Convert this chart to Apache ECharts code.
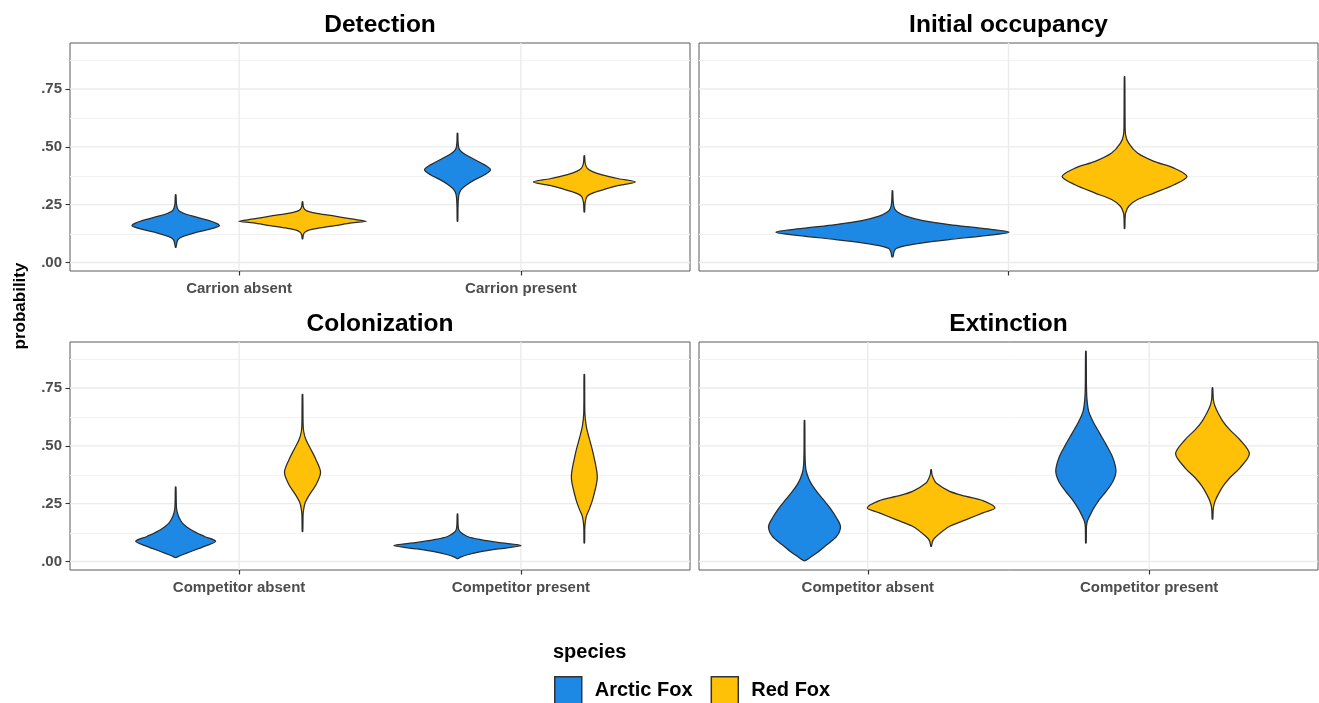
<!DOCTYPE html>
<html>
<head>
<meta charset="utf-8">
<title>Arctic and red fox occupancy dynamics</title>
<script src="https://cdn.jsdelivr.net/npm/echarts@6/dist/echarts.min.js"></script>
<style>
  html, body { margin: 0; padding: 0; background: #ffffff; }
  #chart { width: 1319px; height: 703px; }
</style>
</head>
<body>
<div id="chart"></div>
<script>
// ---- data -------------------------------------------------------------
const speciesNames = ['Arctic Fox', 'Red Fox'];
const speciesColors = ['#1E88E5', '#FFC107'];

const panelTitles = ['Detection', 'Initial occupancy', 'Colonization', 'Extinction'];
const detectionCategories = ['Carrion absent', 'Carrion present'];
const occupancyCategories = [''];
const colonizationCategories = ['Competitor absent', 'Competitor present'];
const extinctionCategories = ['Competitor absent', 'Competitor present'];

const yTickValues = [0, 0.25, 0.5, 0.75];
const yTickLabels = ['.00', '.25', '.50', '.75'];
const yMinorValues = [0.125, 0.375, 0.625, 0.875];

// Violin outlines: [probability, half width in category units]
const detectionArcticAbsent = [
  [0.066, 0.001], [0.099, 0.008], [0.113, 0.026], [0.128, 0.067], [0.142, 0.114],
  [0.159, 0.155], [0.178, 0.126], [0.200, 0.061], [0.214, 0.026], [0.225, 0.010],
  [0.250, 0.003], [0.293, 0.001]
];
const detectionArcticPresent = [
  [0.178, 0.001], [0.250, 0.002], [0.293, 0.005], [0.315, 0.013], [0.336, 0.033],
  [0.358, 0.062], [0.379, 0.096], [0.401, 0.117], [0.422, 0.096], [0.444, 0.062],
  [0.466, 0.029], [0.480, 0.013], [0.494, 0.005], [0.520, 0.002], [0.559, 0.001]
];
const detectionRedAbsent = [
  [0.102, 0.001], [0.120, 0.003], [0.131, 0.009], [0.139, 0.020], [0.148, 0.056],
  [0.159, 0.115], [0.171, 0.174], [0.178, 0.226], [0.188, 0.174], [0.200, 0.115],
  [0.211, 0.056], [0.221, 0.020], [0.228, 0.009], [0.240, 0.003], [0.262, 0.001]
];
const detectionRedPresent = [
  [0.218, 0.001], [0.260, 0.003], [0.286, 0.010], [0.299, 0.027], [0.313, 0.063],
  [0.333, 0.122], [0.348, 0.181], [0.362, 0.122], [0.379, 0.063], [0.394, 0.027],
  [0.408, 0.010], [0.430, 0.003], [0.461, 0.001]
];

const occupancyArctic = [
  [0.025, 0.001], [0.045, 0.003], [0.060, 0.007], [0.073, 0.026], [0.085, 0.059],
  [0.099, 0.110], [0.115, 0.175], [0.131, 0.226], [0.147, 0.175], [0.164, 0.110],
  [0.181, 0.059], [0.200, 0.026], [0.218, 0.010], [0.233, 0.004], [0.260, 0.0015],
  [0.310, 0.0005]
];
const occupancyRed = [
  [0.147, 0.0005], [0.190, 0.001], [0.214, 0.002], [0.243, 0.008], [0.272, 0.025],
  [0.300, 0.057], [0.336, 0.096], [0.372, 0.121], [0.408, 0.096], [0.437, 0.057],
  [0.473, 0.025], [0.516, 0.008], [0.552, 0.002], [0.620, 0.001], [0.803, 0.0005]
];

const colonizationArcticAbsent = [
  [0.017, 0.001], [0.022, 0.010], [0.029, 0.024], [0.043, 0.054], [0.065, 0.102],
  [0.087, 0.142], [0.108, 0.102], [0.137, 0.054], [0.166, 0.024], [0.195, 0.010],
  [0.230, 0.003], [0.322, 0.001]
];
const colonizationArcticPresent = [
  [0.012, 0.001], [0.019, 0.011], [0.029, 0.035], [0.042, 0.083], [0.054, 0.143],
  [0.069, 0.226], [0.082, 0.143], [0.094, 0.083], [0.108, 0.035], [0.126, 0.011],
  [0.140, 0.004], [0.160, 0.002], [0.205, 0.001]
];
const colonizationRedAbsent = [
  [0.130, 0.001], [0.200, 0.002], [0.224, 0.004], [0.253, 0.009], [0.289, 0.025],
  [0.332, 0.048], [0.385, 0.064], [0.440, 0.048], [0.484, 0.030], [0.527, 0.012],
  [0.563, 0.004], [0.600, 0.002], [0.722, 0.001]
];
const colonizationRedPresent = [
  [0.080, 0.001], [0.152, 0.002], [0.195, 0.007], [0.224, 0.017], [0.274, 0.031],
  [0.365, 0.046], [0.469, 0.031], [0.534, 0.017], [0.584, 0.007], [0.642, 0.002],
  [0.808, 0.001]
];

const extinctionArcticAbsent = [
  [0.003, 0.001], [0.012, 0.014], [0.036, 0.043], [0.072, 0.079], [0.108, 0.114],
  [0.150, 0.128], [0.188, 0.114], [0.231, 0.091], [0.267, 0.067], [0.303, 0.043],
  [0.332, 0.026], [0.361, 0.014], [0.397, 0.005], [0.450, 0.002], [0.610, 0.001]
];
const extinctionArcticPresent = [
  [0.080, 0.001], [0.150, 0.002], [0.173, 0.005], [0.188, 0.010], [0.224, 0.025],
  [0.267, 0.048], [0.303, 0.072], [0.346, 0.096], [0.390, 0.107], [0.448, 0.096],
  [0.505, 0.072], [0.556, 0.048], [0.606, 0.025], [0.649, 0.010], [0.700, 0.004],
  [0.760, 0.002], [0.909, 0.001]
];
const extinctionRedAbsent = [
  [0.065, 0.001], [0.090, 0.006], [0.108, 0.018], [0.152, 0.066], [0.181, 0.125],
  [0.210, 0.184], [0.231, 0.227], [0.263, 0.184], [0.281, 0.125], [0.303, 0.066],
  [0.339, 0.018], [0.360, 0.008], [0.375, 0.003], [0.397, 0.001]
];
const extinctionRedPresent = [
  [0.183, 0.001], [0.230, 0.003], [0.260, 0.009], [0.289, 0.020], [0.325, 0.037],
  [0.361, 0.061], [0.404, 0.097], [0.466, 0.131], [0.527, 0.097], [0.570, 0.061],
  [0.606, 0.037], [0.642, 0.020], [0.671, 0.009], [0.700, 0.003], [0.751, 0.001]
];

// ---- panels -----------------------------------------------------------
const panels = [
  { title: panelTitles[0], categories: detectionCategories,
    profiles: [[detectionArcticAbsent, detectionArcticPresent], [detectionRedAbsent, detectionRedPresent]] },
  { title: panelTitles[1], categories: occupancyCategories,
    profiles: [[occupancyArctic], [occupancyRed]] },
  { title: panelTitles[2], categories: colonizationCategories,
    profiles: [[colonizationArcticAbsent, colonizationArcticPresent], [colonizationRedAbsent, colonizationRedPresent]] },
  { title: panelTitles[3], categories: extinctionCategories,
    profiles: [[extinctionArcticAbsent, extinctionArcticPresent], [extinctionRedAbsent, extinctionRedPresent]] }
];

const FONT = "'Liberation Sans', Arial, Helvetica, sans-serif";
const gridBoxes = [
  { left: 70,  top: 43,  width: 620, height: 228 },
  { left: 699, top: 43,  width: 619, height: 228 },
  { left: 70,  top: 342, width: 620, height: 228 },
  { left: 699, top: 342, width: 619, height: 228 }
];
const DODGE = 0.225;          // half of the 0.9 dodge width
const Y_MIN = -0.037, Y_MAX = 0.949;

function violinRenderer(profiles, offset) {
  return function (params, api) {
    const prof = profiles[params.dataIndex];
    const xc = api.value(0) + offset;
    const pts = [];
    for (let i = 0; i < prof.length; i++) {
      pts.push(api.coord([xc - prof[i][1], prof[i][0]]));
    }
    for (let i = prof.length - 1; i >= 0; i--) {
      pts.push(api.coord([xc + prof[i][1], prof[i][0]]));
    }
    return {
      type: 'polygon',
      shape: { points: pts, smooth: 0.3 },
      style: { fill: api.visual('color'), stroke: '#2b2b2b', lineWidth: 1.25 }
    };
  };
}

// panel background grid: minor + major horizontal lines, vertical lines at categories
function gridLineRenderer(catPos) {
  return function (params, api) {
    const cs = params.coordSys;
    const x0 = cs.x, x1 = cs.x + cs.width, y0 = cs.y, y1 = cs.y + cs.height;
    const children = [];
    yMinorValues.forEach(function (v) {
      const y = Math.round(api.coord([1, v])[1]) + 0.5;
      children.push({ type: 'line', shape: { x1: x0, y1: y, x2: x1, y2: y },
        style: { stroke: '#F2F2F2', lineWidth: 1 } });
    });
    yTickValues.forEach(function (v) {
      const y = api.coord([1, v])[1];
      children.push({ type: 'line', shape: { x1: x0, y1: y, x2: x1, y2: y },
        style: { stroke: '#EBEBEB', lineWidth: 1.4 } });
    });
    catPos.forEach(function (c) {
      const x = api.coord([c, 0])[0];
      children.push({ type: 'line', shape: { x1: x, y1: y0, x2: x, y2: y1 },
        style: { stroke: '#EBEBEB', lineWidth: 1.4 } });
    });
    return { type: 'group', children: children };
  };
}

const grids = [], xAxes = [], yAxes = [], series = [], graphics = [];

panels.forEach(function (panel, p) {
  const box = gridBoxes[p];
  const isLeft = (p % 2 === 0);
  const catPos = panel.categories.map(function (_, i) { return i + 1; });

  grids.push(Object.assign({
    show: true, backgroundColor: '#ffffff', borderColor: '#5a5a5a', borderWidth: 1,
    containLabel: false
  }, box));

  xAxes.push({
    type: 'value', gridIndex: p, position: 'bottom', z: 10,
    min: 0.4, max: panel.categories.length + 0.6,
    axisLine: { show: false, onZero: false },
    splitLine: { show: false },
    axisTick: { show: true, inside: false, customValues: catPos, length: 4.5, lineStyle: { color: '#333333', width: 1.2 } },
    axisLabel: {
      show: true, customValues: catPos, margin: 10,
      fontFamily: FONT, fontSize: 15, fontWeight: 'bold', color: '#4D4D4D',
      formatter: function (v) { return panel.categories[Math.round(v) - 1] || ''; }
    }
  });

  yAxes.push({
    type: 'value', gridIndex: p, position: 'left', z: 10, min: Y_MIN, max: Y_MAX,
    axisLine: { show: false, onZero: false },
    splitLine: { show: false },
    axisTick: { show: isLeft, inside: false, customValues: yTickValues, length: 4.5, lineStyle: { color: '#333333', width: 1.1 } },
    axisLabel: {
      show: isLeft, customValues: yTickValues, margin: 8,
      fontFamily: FONT, fontSize: 15, fontWeight: 'bold', color: '#4D4D4D',
      formatter: function (v) {
        const k = yTickValues.findIndex(function (t) { return Math.abs(t - v) < 1e-6; });
        return k >= 0 ? yTickLabels[k] : '';
      }
    }
  });

  series.push({
    type: 'custom', xAxisIndex: p, yAxisIndex: p, z: 1, silent: true, clip: true,
    encode: { x: 0, y: 1 },
    data: [[1, 0]],
    renderItem: gridLineRenderer(catPos)
  });

  // violins, dodged left (Arctic Fox) and right (Red Fox) of each category
  [0, 1].forEach(function (s) {
    series.push({
      type: 'custom', name: speciesNames[s],
      xAxisIndex: p, yAxisIndex: p, z: 3, clip: true,
      itemStyle: { color: speciesColors[s] },
      encode: { x: 0, y: 1 },
      data: catPos.map(function (c) { return [c, 0]; }),
      renderItem: violinRenderer(panel.profiles[s], s === 0 ? -DODGE : DODGE)
    });
  });

  // facet title
  graphics.push({
    type: 'text', x: box.left + box.width / 2, y: box.top - 17.5, silent: true,
    style: {
      text: panel.title, fill: '#000000', font: 'bold 24.5px ' + FONT,
      textAlign: 'center', textVerticalAlign: 'middle'
    }
  });
});

// shared y-axis title
graphics.push({
  type: 'text', x: 20, y: 306, rotation: Math.PI / 2, silent: true,
  style: {
    text: 'probability', fill: '#000000', font: 'bold 17px ' + FONT,
    textAlign: 'center', textVerticalAlign: 'middle'
  }
});
// legend title
graphics.push({
  type: 'text', x: 553, y: 652, silent: true,
  style: {
    text: 'species', fill: '#000000', font: 'bold 20px ' + FONT,
    textAlign: 'left', textVerticalAlign: 'middle'
  }
});

const chart = echarts.init(document.getElementById('chart'), null, { renderer: 'canvas' });
chart.setOption({
  backgroundColor: '#ffffff',
  animation: false,
  textStyle: { fontFamily: FONT },
  grid: grids,
  xAxis: xAxes,
  yAxis: yAxes,
  legend: {
    data: speciesNames,
    left: 554, top: 676, orient: 'horizontal',
    itemWidth: 27, itemHeight: 27, itemGap: 18, icon: 'rect',
    padding: 0,
    itemStyle: { borderColor: '#333333', borderWidth: 1.5 },
    textStyle: { fontFamily: FONT, fontSize: 20, fontWeight: 'bold', color: '#000000', padding: [0, 0, 0, 8] },
    selectedMode: false
  },
  graphic: graphics,
  series: series
});
</script>
</body>
</html>
